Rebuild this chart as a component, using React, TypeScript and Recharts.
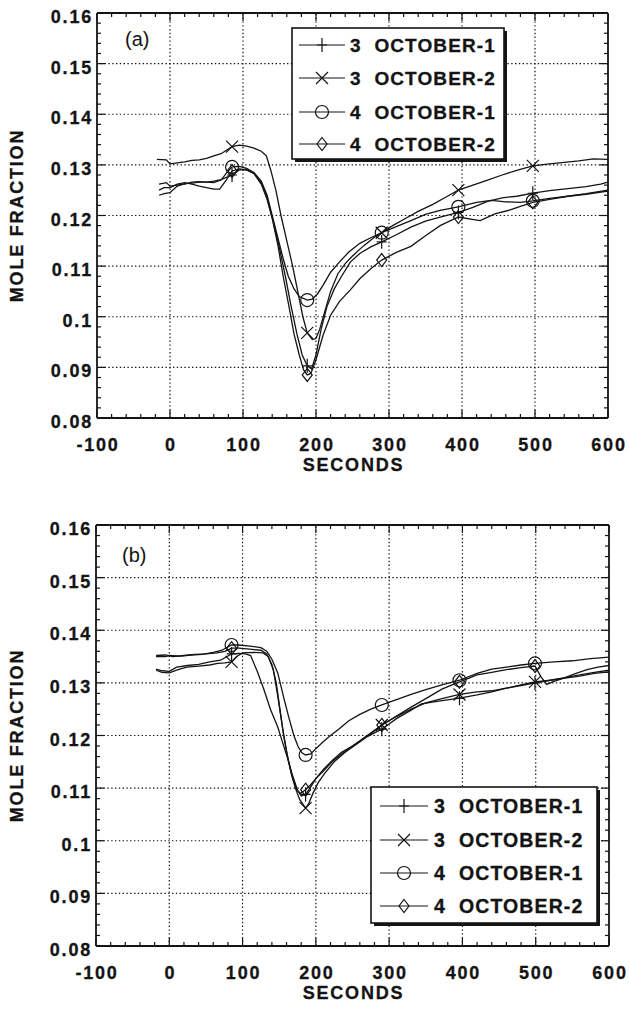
import React from 'react';
import { LineChart, Line, XAxis, YAxis, ReferenceLine } from 'recharts';

const FONT = "'Liberation Sans', Arial, Helvetica, sans-serif";
const INK = '#141414';

const seriesNames = ['3  OCTOBER-1', '3  OCTOBER-2', '4  OCTOBER-1', '4  OCTOBER-2'];
const markerKinds = ['plus', 'cross', 'circle', 'diamond'];

const xMajorTicks = [-100, 0, 100, 200, 300, 400, 500, 600];
const yMajorTicks = [0.08, 0.09, 0.1, 0.11, 0.12, 0.13, 0.14, 0.15, 0.16];
const xTicks = Array.from({ length: 36 }, (_, i) => -100 + i * 20);
const yTicks = Array.from({ length: 41 }, (_, i) => Math.round(80 + i * 2) / 1000);

// panel (a)
const markersA = [85, 188, 290, 395, 497];
const a_oct3_1 = [[-15,0.1240],[-8,0.1243],[0,0.1245],[10,0.1258],[20,0.1263],[30,0.1264],[40,0.1266],[50,0.1266],[60,0.1268],[70,0.1271],[85,0.1280],[95,0.1290],[105,0.1290],[115,0.1283],[125,0.1262],[133,0.1232],[141,0.1190],[150,0.1135],[158,0.1080],[166,0.1020],[174,0.0965],[181,0.0925],[188,0.0903],[194,0.0897],[200,0.0925],[207,0.0975],[215,0.1020],[225,0.1055],[235,0.1080],[247,0.1108],[260,0.1125],[275,0.1138],[290,0.1148],[310,0.1162],[330,0.1177],[350,0.1189],[370,0.1197],[395,0.1206],[415,0.1216],[435,0.1228],[455,0.1235],[475,0.1238],[497,0.1244],[520,0.1249],[545,0.1253],[570,0.1257],[590,0.1262],[600,0.1266]];
const a_oct3_2 = [[-18,0.1311],[-5,0.1310],[0,0.1302],[10,0.1304],[20,0.1306],[30,0.1309],[40,0.1310],[50,0.1313],[60,0.1318],[70,0.1322],[85,0.1336],[95,0.1339],[105,0.1337],[115,0.1333],[125,0.1327],[132,0.1318],[138,0.1290],[145,0.1250],[152,0.1200],[160,0.1150],[168,0.1100],[175,0.1050],[182,0.1000],[188,0.0968],[195,0.0955],[200,0.0957],[205,0.0975],[212,0.1010],[220,0.1050],[230,0.1085],[240,0.1105],[250,0.1120],[265,0.1140],[280,0.1157],[290,0.1166],[305,0.1180],[320,0.1192],[340,0.1208],[360,0.1222],[380,0.1238],[395,0.1250],[415,0.1260],[435,0.1270],[455,0.1280],[475,0.1289],[497,0.1298],[520,0.1302],[540,0.1305],[560,0.1308],[580,0.1312],[600,0.1311]];
const a_oct4_1 = [[-15,0.1262],[-5,0.1265],[0,0.1258],[10,0.1260],[20,0.1262],[30,0.1266],[40,0.1267],[50,0.1266],[60,0.1265],[70,0.1270],[78,0.1285],[85,0.1296],[95,0.1297],[105,0.1293],[115,0.1285],[125,0.1268],[133,0.1240],[140,0.1200],[147,0.1160],[155,0.1115],[162,0.1080],[170,0.1055],[177,0.1040],[188,0.1033],[195,0.1035],[202,0.1045],[210,0.1063],[220,0.1088],[232,0.1108],[245,0.1128],[260,0.1145],[275,0.1156],[290,0.1166],[310,0.1178],[330,0.1190],[350,0.1202],[370,0.1210],[395,0.1217],[420,0.1226],[440,0.1230],[460,0.1227],[480,0.1226],[497,0.1229],[520,0.1234],[545,0.1238],[570,0.1242],[600,0.1248]];
const a_oct4_2 = [[-15,0.1250],[-8,0.1255],[0,0.1255],[10,0.1262],[20,0.1265],[30,0.1262],[40,0.1258],[50,0.1255],[60,0.1252],[68,0.1252],[77,0.1270],[85,0.1288],[95,0.1292],[105,0.1290],[115,0.1283],[125,0.1265],[133,0.1235],[140,0.1195],[148,0.1140],[155,0.1080],[163,0.1020],[170,0.0965],[177,0.0925],[183,0.0895],[188,0.0885],[193,0.0888],[200,0.0915],[210,0.0965],[220,0.1003],[232,0.1030],[247,0.1053],[260,0.1075],[275,0.1095],[290,0.1112],[310,0.1127],[330,0.1139],[350,0.1160],[370,0.1180],[395,0.1197],[412,0.1193],[425,0.1190],[445,0.1203],[466,0.1211],[480,0.1218],[497,0.1226],[520,0.1232],[545,0.1238],[570,0.1243],[600,0.1250]];

// panel (b)
const markersB = [85, 186, 290, 396, 499];
const b_oct3_1 = [[-18,0.1326],[-10,0.1323],[0,0.1322],[10,0.1330],[25,0.1333],[40,0.1335],[55,0.1340],[70,0.1343],[85,0.1355],[95,0.1356],[104,0.1355],[111,0.1352],[120,0.1322],[129,0.1288],[138,0.1250],[148,0.1216],[155,0.1185],[161,0.1159],[168,0.1125],[175,0.1096],[180,0.1085],[186,0.1088],[192,0.1100],[200,0.1118],[210,0.1135],[222,0.1152],[235,0.1168],[250,0.1180],[270,0.1198],[290,0.1212],[310,0.1232],[330,0.1248],[344,0.1260],[370,0.1266],[396,0.1271],[420,0.1277],[440,0.1283],[460,0.1290],[480,0.1295],[499,0.1300],[520,0.1305],[540,0.1310],[560,0.1315],[580,0.1320],[600,0.1324]];
const b_oct3_2 = [[-18,0.1324],[-10,0.1320],[0,0.1319],[12,0.1325],[24,0.1330],[40,0.1332],[55,0.1334],[66,0.1337],[76,0.1338],[85,0.1340],[92,0.1350],[100,0.1357],[115,0.1358],[128,0.1357],[135,0.1350],[142,0.1325],[148,0.1275],[154,0.1220],[160,0.1170],[166,0.1130],[172,0.1100],[178,0.1078],[186,0.1062],[190,0.1070],[196,0.1090],[203,0.1110],[212,0.1128],[225,0.1150],[240,0.1168],[255,0.1183],[272,0.1200],[290,0.1220],[310,0.1236],[330,0.1250],[350,0.1262],[372,0.1270],[396,0.1278],[420,0.1283],[440,0.1285],[460,0.1290],[480,0.1296],[499,0.1302],[520,0.1305],[540,0.1309],[560,0.1313],[580,0.1318],[600,0.1321]];
const b_oct4_1 = [[-18,0.1350],[-5,0.1350],[0,0.1352],[15,0.1351],[30,0.1353],[45,0.1354],[60,0.1358],[72,0.1362],[85,0.1372],[95,0.1372],[110,0.1370],[125,0.1367],[133,0.1360],[140,0.1345],[148,0.1319],[156,0.1273],[163,0.1235],[170,0.1200],[176,0.1178],[181,0.1167],[186,0.1163],[193,0.1165],[200,0.1175],[210,0.1188],[220,0.1200],[232,0.1213],[245,0.1228],[260,0.1240],[275,0.1250],[290,0.1258],[310,0.1268],[330,0.1278],[350,0.1287],[372,0.1296],[396,0.1305],[420,0.1318],[440,0.1326],[460,0.1330],[480,0.1334],[499,0.1337],[525,0.1340],[550,0.1342],[575,0.1346],[600,0.1349]];
const b_oct4_2 = [[-18,0.1352],[-5,0.1353],[5,0.1350],[20,0.1352],[35,0.1354],[50,0.1355],[65,0.1357],[76,0.1360],[85,0.1366],[95,0.1366],[110,0.1364],[125,0.1362],[133,0.1355],[140,0.1335],[146,0.1300],[151,0.1250],[156,0.1200],[162,0.1155],[168,0.1120],[174,0.1097],[179,0.1090],[186,0.1097],[192,0.1105],[200,0.1118],[210,0.1132],[222,0.1150],[235,0.1165],[250,0.1180],[270,0.1200],[290,0.1220],[310,0.1237],[330,0.1254],[350,0.1270],[372,0.1288],[396,0.1302],[420,0.1315],[440,0.1320],[460,0.1325],[480,0.1329],[499,0.1332],[507,0.1312],[515,0.1297],[525,0.1303],[540,0.1310],[555,0.1318],[570,0.1325],[585,0.1330],[600,0.1333]];

const tickText: React.CSSProperties = { fontFamily: FONT, fontWeight: 700, fontSize: 18, letterSpacing: 1.8, fill: INK, stroke: INK, strokeWidth: 0.3 };
const isMajorY = (v: number) => Math.abs(v * 100 - Math.round(v * 100)) < 1e-6;
const fmtY = (v: number) => String(Math.round(v * 100) / 100);

function Marker({ kind, cx, cy }: { kind: string; cx: number; cy: number }) {
  const s = { stroke: INK, strokeWidth: 1.2, fill: 'none' };
  if (kind === 'plus') return <path d={`M${cx},${cy - 7}V${cy + 7}M${cx - 5},${cy}H${cx + 5}`} {...s} />;
  if (kind === 'cross') return <path d={`M${cx - 6},${cy - 6}L${cx + 6},${cy + 6}M${cx - 6},${cy + 6}L${cx + 6},${cy - 6}`} {...s} />;
  if (kind === 'circle') return <circle cx={cx} cy={cy} r={6.5} {...s} />;
  return <path d={`M${cx},${cy - 6.5}L${cx + 5},${cy}L${cx},${cy + 6.5}L${cx - 5},${cy}Z`} {...s} />;
}

const BottomTick = ({ x, y, payload }: any) => {
  const major = payload.value % 100 === 0;
  return (
    <g>
      <line x1={x} x2={x} y1={y} y2={y - (major ? 8 : 4)} stroke={INK} strokeWidth={1.2} />
      {major && <text x={x + 1} y={y + 33} textAnchor="middle" style={tickText}>{payload.value}</text>}
    </g>
  );
};
const TopTick = ({ x, y, payload }: any) => (
  <line x1={x} x2={x} y1={y} y2={y + (payload.value % 100 === 0 ? 8 : 4)} stroke={INK} strokeWidth={1.2} />
);
const LeftTick = ({ x, y, payload }: any) => {
  const major = isMajorY(payload.value);
  return (
    <g>
      <line x1={x} x2={x + (major ? 8 : 4)} y1={y} y2={y} stroke={INK} strokeWidth={1.2} />
      {major && <text x={x - 4} y={y + 10} textAnchor="end" style={tickText}>{fmtY(payload.value)}</text>}
    </g>
  );
};
const RightTick = ({ x, y, payload }: any) => (
  <line x1={x} x2={x - (isMajorY(payload.value) ? 8 : 4)} y1={y} y2={y} stroke={INK} strokeWidth={1.2} />
);

type LegendBox = { left: number; top: number; width: number; height: number; rows: number[]; line: [number, number]; textX: number; fontSize: number };

type PanelProps = {
  tag: string;
  tagPos: [number, number];
  series: number[][][];
  markers: number[];
  top: number;
  height: number;
  margin: { top: number; right: number; bottom: number; left: number };
  yWidth: number;
  legend: LegendBox;
};

function Panel(p: PanelProps) {
  const axisLine = { stroke: INK, strokeWidth: 1.8 };
  const lg = p.legend;
  return (
    <div style={{ position: 'absolute', left: 0, top: p.top, width: 629, height: p.height }}>
      <LineChart width={629} height={p.height} margin={p.margin}>
        <XAxis xAxisId="b" type="number" dataKey="x" domain={[-100, 600]} ticks={xTicks} interval={0}
          allowDataOverflow height={60} tickSize={0} tickMargin={0} tick={(t: any) => <BottomTick {...t} />}
          axisLine={axisLine} tickLine={false}
          label={(l: any) => {
            const vb = l.viewBox || {};
            return (
              <text x={(vb.x ?? 97) + (vb.width ?? 511) / 2 + 1} y={(vb.y ?? 0) + 53} textAnchor="middle" style={tickText}>SECONDS</text>
            );
          }} />
        <XAxis xAxisId="t" orientation="top" type="number" dataKey="x" domain={[-100, 600]} ticks={xTicks} interval={0}
          allowDataOverflow height={1} tickSize={0} tickMargin={0} tick={(t: any) => <TopTick {...t} />}
          axisLine={axisLine} tickLine={false} />
        <YAxis yAxisId="l" type="number" domain={[0.08, 0.16]} ticks={yTicks} interval={0} allowDataOverflow
          width={p.yWidth} tickSize={0} tickMargin={0} tick={(t: any) => <LeftTick {...t} />}
          axisLine={axisLine} tickLine={false}
          label={(l: any) => {
            const vb = l.viewBox || {};
            const cy = (vb.y ?? 0) + (vb.height ?? 400) / 2;
            return (
              <text x={23} y={cy} transform={`rotate(-90, 23, ${cy})`} textAnchor="middle" style={tickText}>MOLE  FRACTION</text>
            );
          }} />
        <YAxis yAxisId="r" orientation="right" type="number" domain={[0.08, 0.16]} ticks={yTicks} interval={0}
          allowDataOverflow width={1} tickSize={0} tickMargin={0} tick={(t: any) => <RightTick {...t} />}
          axisLine={axisLine} tickLine={false} />
        {xMajorTicks.slice(1, -1).map((v) => (
          <ReferenceLine key={`gx${v}`} xAxisId="b" yAxisId="l" x={v} stroke={INK} strokeWidth={1.2} strokeDasharray="1.4 2.4" />
        ))}
        {yMajorTicks.slice(1, -1).map((v) => (
          <ReferenceLine key={`gy${v}`} xAxisId="b" yAxisId="l" y={v} stroke={INK} strokeWidth={1.2} strokeDasharray="1.4 2.4" />
        ))}
        {p.series.map((rows, i) => (
          <Line key={seriesNames[i]} name={seriesNames[i]} xAxisId="b" yAxisId="l"
            data={rows.map(([x, y]) => ({ x, y }))} dataKey="y" type="linear"
            stroke={INK} strokeWidth={1.3} isAnimationActive={false} activeDot={false}
            dot={(d: any) => p.markers.includes(d.payload.x)
              ? <Marker key={`m${i}-${d.index}`} kind={markerKinds[i]} cx={d.cx} cy={d.cy} />
              : <g key={`m${i}-${d.index}`} />} />
        ))}
      </LineChart>
      <svg width={629} height={p.height} style={{ position: 'absolute', left: 0, top: 0, pointerEvents: 'none' }}>
        <text x={p.tagPos[0]} y={p.tagPos[1]} style={{ fontFamily: FONT, fontSize: 20, fill: INK }}>{p.tag}</text>
        <g transform={`translate(${lg.left}, ${lg.top})`}>
          <rect x={3} y={3} width={lg.width} height={lg.height} fill={INK} />
          <rect x={0} y={0} width={lg.width} height={lg.height} fill="#fff" stroke={INK} strokeWidth={1.6} />
          {seriesNames.map((name, i) => (
            <g key={name}>
              <line x1={lg.line[0]} x2={lg.line[1]} y1={lg.rows[i]} y2={lg.rows[i]} stroke={INK} strokeWidth={1.2} />
              <Marker kind={markerKinds[i]} cx={(lg.line[0] + lg.line[1]) / 2} cy={lg.rows[i]} />
              <text x={lg.textX} y={lg.rows[i] + 7} style={{ fontFamily: FONT, fontWeight: 700, fontSize: lg.fontSize, letterSpacing: 1.1, fill: INK, stroke: INK, strokeWidth: 0.3, whiteSpace: 'pre' }}>{name}</text>
            </g>
          ))}
        </g>
      </svg>
    </div>
  );
}

export default function App() {
  return (
    <div style={{ position: 'absolute', left: 0, top: 0, width: 629, height: 1009, background: '#fff' }}>
      <Panel tag="(a)" tagPos={[125, 46]} series={[a_oct3_1, a_oct3_2, a_oct4_1, a_oct4_2]} markers={markersA}
        top={0} height={505} margin={{ top: 12, right: 20, bottom: 27, left: 0 }} yWidth={97}
        legend={{ left: 292, top: 28, width: 212, height: 131, rows: [17, 50, 84, 116], line: [7, 53], textX: 58, fontSize: 19 }} />
      <Panel tag="(b)" tagPos={[122, 57]} series={[b_oct3_1, b_oct3_2, b_oct4_1, b_oct4_2]} markers={markersB}
        top={505} height={504} margin={{ top: 19, right: 19, bottom: 3, left: 0 }} yWidth={96}
        legend={{ left: 371, top: 282, width: 226, height: 136, rows: [19, 53, 86, 119], line: [9, 57], textX: 63, fontSize: 19.5 }} />
    </div>
  );
}
